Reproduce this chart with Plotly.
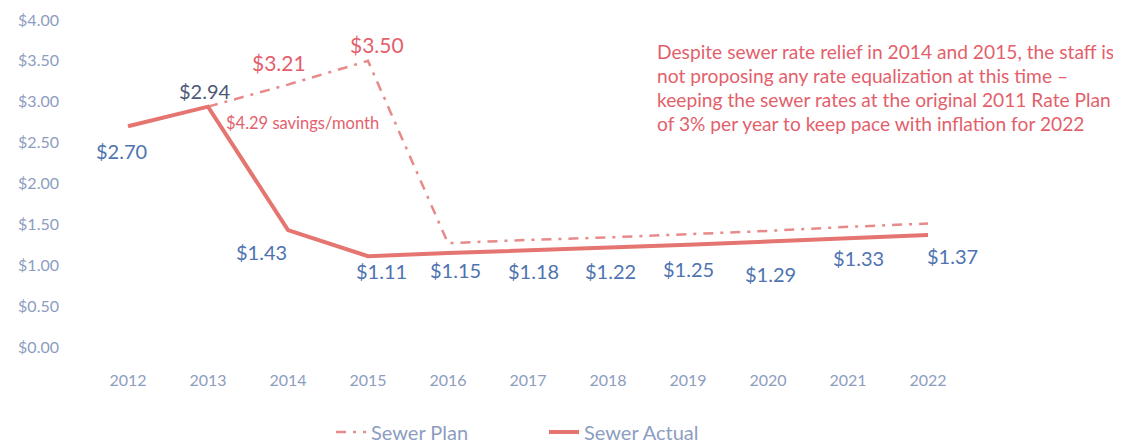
import plotly.graph_objects as go

years = [2012, 2013, 2014, 2015, 2016, 2017, 2018, 2019, 2020, 2021, 2022]
year_labels = ["2012", "2013", "2014", "2015", "2016", "2017", "2018", "2019", "2020", "2021", "2022"]
actual = [2.70, 2.94, 1.43, 1.11, 1.15, 1.18, 1.22, 1.25, 1.29, 1.33, 1.37]
actual_labels = ["$2.70", "$2.94", "$1.43", "$1.11", "$1.15", "$1.18", "$1.22", "$1.25", "$1.29", "$1.33", "$1.37"]
plan = [None, 2.94, 3.21, 3.50, 1.27, 1.31, 1.34, 1.38, 1.42, 1.47, 1.51]
plan_labels = [None, None, "$3.21", "$3.50", None, None, None, None, None, None, None]
y_ticks = [0, 0.5, 1.0, 1.5, 2.0, 2.5, 3.0, 3.5, 4.0]

note_lines = [
    "Despite sewer rate relief in 2014 and 2015, the staff is",
    "not proposing any rate equalization at this time \u2013",
    "keeping the sewer rates at the original 2011 Rate Plan",
    "of 3% per year to keep pace with inflation for 2022",
]
savings_text = "$4.29 savings/month"

# label placement (pixel offsets) - styling only
act_dx = [-7, -3, -27, 13, 7, 5, 2, 0, 2, 10, 24]
act_dy = [25, -16, 22, 15, 17, 20, 24, 24, 32, 20, 21]
plan_dx = [0, 0, -9, 9, 0, 0, 0, 0, 0, 0, 0]
plan_dy = [0, 0, -22, -16, 0, 0, 0, 0, 0, 0, 0]

RED = "#e57571"
TXT_RED = "#e35f6c"
BLUE = "#4f73b0"
AXIS = "#8d9dc0"
FONT = "Lato"

# page body has an 8px margin: figure is drawn 8px right/down of the window origin
OFF = 8
W, H = 1121 - OFF, 444 - OFF
L, R, T = 88 - OFF, 153, 20 - OFF
B = H - (347 - OFF)
PW, PH = W - L - R, H - T - B
PLOT_BOTTOM_SCREEN = 347

fig = go.Figure()
fig.add_trace(go.Scatter(
    x=years, y=plan, name="Sewer Plan", mode="lines",
    line=dict(color="#e88a8a", width=2.5, dash="10px,7px,3px,7px"),
    connectgaps=False,
))
fig.add_trace(go.Scatter(
    x=years, y=actual, name="Sewer Actual", mode="lines",
    line=dict(color=RED, width=4),
))

annotations = []
for i, (yr, v, lab) in enumerate(zip(years, actual, actual_labels)):
    annotations.append(dict(
        x=yr, y=v, xref="x", yref="y", text=lab, showarrow=False,
        xshift=act_dx[i], yshift=-act_dy[i],
        font=dict(family=FONT, size=20, color="#4e5877" if i == 1 else BLUE),
    ))
for i, (yr, v, lab) in enumerate(zip(years, plan, plan_labels)):
    if lab is None:
        continue
    annotations.append(dict(
        x=yr, y=v, xref="x", yref="y", text=lab, showarrow=False,
        xshift=plan_dx[i], yshift=-plan_dy[i],
        font=dict(family=FONT, size=21, color=TXT_RED),
    ))
annotations.append(dict(
    x=years[1], y=plan[1], xref="x", yref="y", text=savings_text, showarrow=False,
    xanchor="left", xshift=16, yshift=-16,
    font=dict(family=FONT, size=16.5, color=TXT_RED),
))
line_y = [51, 75, 99, 123]
for txt, py in zip(note_lines, line_y):
    annotations.append(dict(
        x=(655 - 88) / PW, y=(PLOT_BOTTOM_SCREEN - py) / PH, xref="paper", yref="paper",
        text=txt, showarrow=False, xanchor="left", yanchor="middle",
        font=dict(family=FONT, size=19.2, color=TXT_RED),
    ))

fig.update_layout(
    width=W, height=H,
    margin=dict(l=L, r=R, t=T, b=B, autoexpand=False),
    paper_bgcolor="white", plot_bgcolor="white",
    showlegend=True,
    legend=dict(
        orientation="h", xref="container", yref="container",
        x=536 / W, xanchor="center",
        y=(444 - 432) / H, yanchor="middle",
        font=dict(family=FONT, size=20, color=AXIS),
        entrywidthmode="pixels", entrywidth=168,
    ),
    annotations=annotations,
    xaxis=dict(
        range=[2011.5, 2022.5], tickvals=years, ticktext=year_labels,
        showgrid=False, zeroline=False, showline=False, automargin=False,
        ticks="", tickfont=dict(family=FONT, size=16, color=AXIS),
        ticklabelstandoff=22,
    ),
    yaxis=dict(
        range=[0, 4], tickvals=y_ticks, tickformat="$.2f",
        showgrid=False, zeroline=False, showline=False, ticks="", automargin=False,
        tickfont=dict(family=FONT, size=16, color=AXIS),
        ticklabelstandoff=28, ticklabeloverflow="allow",
    ),
)

fig.write_html("out.html")
